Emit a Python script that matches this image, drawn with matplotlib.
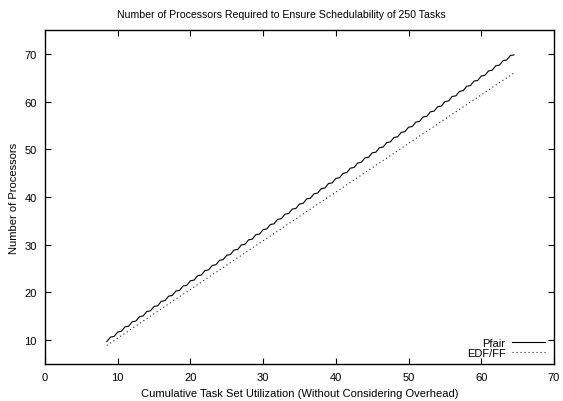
import matplotlib
matplotlib.use("Agg")
import matplotlib.pyplot as plt

title = "Number of Processors Required to Ensure Schedulability of 250 Tasks"
xlabel = "Cumulative Task Set Utilization (Without Considering Overhead)"
ylabel = "Number of Processors"

pfair_x = [8.5, 9.0, 9.5, 10.0, 10.5, 11.0, 11.5, 12.0, 12.5, 13.0, 13.5, 14.0, 14.5, 15.0,
           15.5, 16.0, 16.5, 17.0, 17.5, 18.0, 18.5, 19.0, 19.5, 20.0, 20.5, 21.0, 21.5, 22.0,
           22.5, 23.0, 23.5, 24.0, 24.5, 25.0, 25.5, 26.0, 26.5, 27.0, 27.5, 28.0, 28.5, 29.0,
           29.5, 30.0, 30.5, 31.0, 31.5, 32.0, 32.5, 33.0, 33.5, 34.0, 34.5, 35.0, 35.5, 36.0,
           36.5, 37.0, 37.5, 38.0, 38.5, 39.0, 39.5, 40.0, 40.5, 41.0, 41.5, 42.0, 42.5, 43.0,
           43.5, 44.0, 44.5, 45.0, 45.5, 46.0, 46.5, 47.0, 47.5, 48.0, 48.5, 49.0, 49.5, 50.0,
           50.5, 51.0, 51.5, 52.0, 52.5, 53.0, 53.5, 54.0, 54.5, 55.0, 55.5, 56.0, 56.5, 57.0,
           57.5, 58.0, 58.5, 59.0, 59.5, 60.0, 60.5, 61.0, 61.5, 62.0, 62.5, 63.0, 63.5, 64.0,
           64.5]
pfair_y = [9.70, 10.64, 10.77, 11.71, 11.85, 12.78, 12.92, 13.86, 13.99, 14.93, 15.07, 16.00,
           16.14, 17.07, 17.21, 18.15, 18.28, 19.22, 19.36, 20.29, 20.43, 21.37, 21.50, 22.44,
           22.58, 23.51, 23.65, 24.59, 24.72, 25.66, 25.80, 26.73, 26.87, 27.80, 27.94, 28.88,
           29.01, 29.95, 30.09, 31.02, 31.16, 32.10, 32.23, 33.17, 33.31, 34.24, 34.38, 35.32,
           35.45, 36.39, 36.53, 37.46, 37.60, 38.53, 38.67, 39.61, 39.74, 40.68, 40.82, 41.75,
           41.89, 42.83, 42.96, 43.90, 44.04, 44.97, 45.11, 46.05, 46.18, 47.12, 47.26, 48.19,
           48.33, 49.26, 49.40, 50.34, 50.47, 51.41, 51.55, 52.48, 52.62, 53.56, 53.69, 54.63,
           54.77, 55.70, 55.84, 56.78, 56.91, 57.85, 57.99, 58.92, 59.06, 59.99, 60.13, 61.07,
           61.20, 62.14, 62.28, 63.21, 63.35, 64.29, 64.42, 65.36, 65.50, 66.43, 66.57, 67.51,
           67.64, 68.58, 68.72, 69.65, 69.79]

edf_x = [8.5, 20.0, 30.0, 40.0, 50.0, 64.5]
edf_y = [8.9, 20.63, 30.83, 41.03, 51.23, 66.0]

xticks = [0, 10, 20, 30, 40, 50, 60, 70]
yticks = [10, 20, 30, 40, 50, 60, 70]

plt.rcParams['font.family'] = ['Liberation Sans', 'DejaVu Sans']
fig = plt.figure(figsize=(5.63, 4.02), dpi=100)
ax = fig.add_axes([45/563, 1-365/402, (554-45)/563, (365-31)/402])

ax.plot(pfair_x, pfair_y, color='black', lw=0.8, label='Pfair')
ax.plot(edf_x, edf_y, color='#222222', lw=0.8, linestyle=(0, (1, 2.6)), label='EDF/FF')

ax.set_xlim(0, 70)
ax.set_ylim(5, 75)
ax.set_xticks(xticks)
ax.set_yticks(yticks)
ax.tick_params(direction='in', length=4.5, width=0.8, top=True, right=True,
               labelsize=8, pad=6)
for s in ax.spines.values():
    s.set_linewidth(1.0)

ax.set_title(title, fontsize=7.6, pad=9, x=(281.5 - 45) / 509)
ax.set_xlabel(xlabel, fontsize=8, labelpad=4)
ax.set_ylabel(ylabel, fontsize=8, labelpad=4)

leg = ax.legend(loc='lower right', bbox_to_anchor=(0.982, 0.018), markerfirst=False,
                frameon=False, fontsize=8, handlelength=3.0, handletextpad=0.55,
                labelspacing=0.0, borderpad=0.0, borderaxespad=0.0)
for t in leg.get_texts():
    t.set_ha('right')

fig.savefig('out.png', dpi=100)
